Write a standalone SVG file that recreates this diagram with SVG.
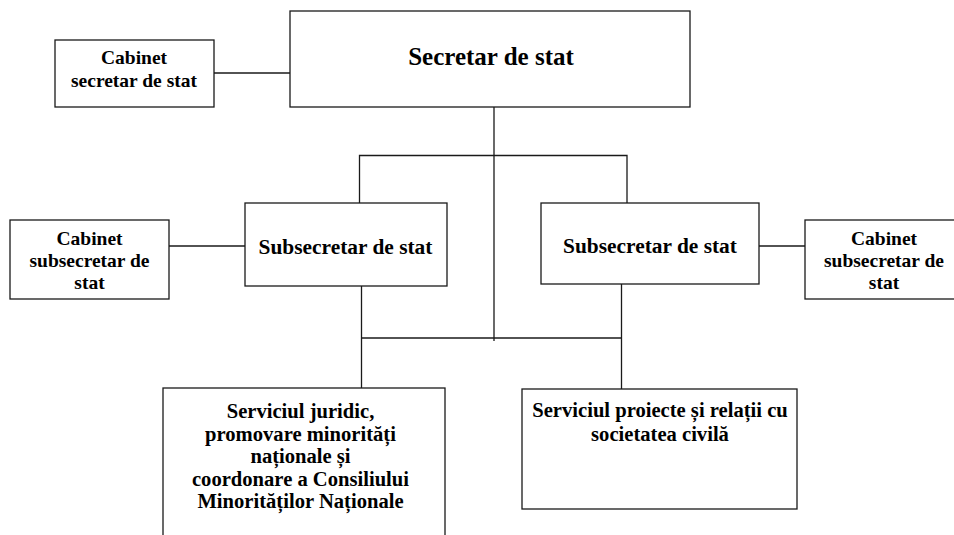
<svg xmlns="http://www.w3.org/2000/svg" width="954" height="535" viewBox="0 0 954 535">
<style>
.box{fill:#fff;stroke:#1a1a1a;stroke-width:1.3}
.ln{fill:none;stroke:#1a1a1a;stroke-width:1.3}
text{font-family:"Liberation Serif","Times New Roman",serif;font-weight:bold;fill:#000;text-anchor:middle}
.t25{font-size:25px}
.t21{font-size:21.4px}
.t19{font-size:19.5px}
.t20{font-size:20.6px}
</style>
<rect width="954" height="535" fill="#fff"/>
<g id="connectors">
<line class="ln" x1="214" y1="73" x2="290" y2="73"/>
<line class="ln" x1="494" y1="107" x2="494" y2="341"/>
<polyline class="ln" points="359.5,203 359.5,155.5 627,155.5 627,203"/>
<line class="ln" x1="169" y1="246" x2="245" y2="246"/>
<line class="ln" x1="759" y1="246" x2="805" y2="246"/>
<line class="ln" x1="361.5" y1="286" x2="361.5" y2="388"/>
<line class="ln" x1="621.5" y1="284" x2="621.5" y2="389"/>
<line class="ln" x1="361.5" y1="338" x2="621.5" y2="338"/>
</g>
<g id="secretar">
<rect class="box" x="290" y="11" width="400" height="96"/>
<text class="t25" x="491" y="65">Secretar de stat</text>
</g>
<g id="cabinet-secretar">
<rect class="box" x="55" y="40" width="159" height="67"/>
<text class="t19" x="134" y="64">Cabinet</text>
<text class="t19" x="134" y="87">secretar de stat</text>
</g>
<g id="subsecretar-left">
<rect class="box" x="245" y="203" width="202" height="83"/>
<text class="t21" x="345.5" y="254">Subsecretar de stat</text>
</g>
<g id="cabinet-left">
<rect class="box" x="10" y="220" width="159" height="79"/>
<text class="t19" x="89.5" y="245">Cabinet</text>
<text class="t19" x="89.5" y="267">subsecretar de</text>
<text class="t19" x="89.5" y="289">stat</text>
</g>
<g id="subsecretar-right">
<rect class="box" x="541" y="203" width="218" height="81"/>
<text class="t21" x="650" y="253">Subsecretar de stat</text>
</g>
<g id="cabinet-right">
<rect class="box" x="805" y="220" width="158" height="79"/>
<text class="t19" x="884" y="245">Cabinet</text>
<text class="t19" x="884" y="267">subsecretar de</text>
<text class="t19" x="884" y="289">stat</text>
</g>
<g id="serviciul-juridic">
<rect class="box" x="163" y="388" width="282" height="170"/>
<text class="t20" x="300.5" y="418">Serviciul juridic,</text>
<text class="t20" x="300.5" y="440.5">promovare minorități</text>
<text class="t20" x="300.5" y="463">naționale și</text>
<text class="t20" x="300.5" y="485.5">coordonare a Consiliului</text>
<text class="t20" x="300.5" y="508">Minorităților Naționale</text>
</g>
<g id="serviciul-proiecte">
<rect class="box" x="522" y="389" width="275" height="120"/>
<text class="t20" x="660" y="417">Serviciul proiecte și relații cu</text>
<text class="t20" x="660" y="440.5">societatea civilă</text>
</g>
</svg>
